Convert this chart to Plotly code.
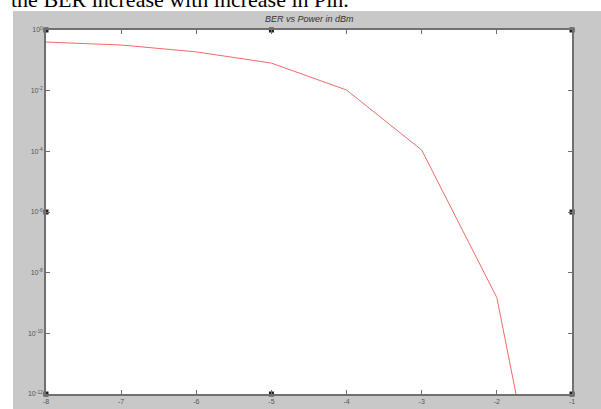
import plotly.graph_objects as go

# Data
power_dbm = [-8, -7, -6, -5, -4, -3, -2, -1]
ber = [0.40, 0.32, 0.19, 0.081, 1.05e-2, 1.1e-4, 1.5e-9, 5e-22]

x_ticks = [-8, -7, -6, -5, -4, -3, -2, -1]
y_exps = [0, -2, -4, -6, -8, -10, -12]

# selection handles visible in the picture (corners and edge midpoints)
handle_x = [-8, -5, -1, -8, -1, -8, -5, -1]
handle_y = [1, 1, 1, 1e-6, 1e-6, 1e-12, 1e-12, 1e-12]

W, H = 601, 409
L, R, T, B = 46, 29, 30, 15
pw, ph = W - L - R, H - T - B

def px(xp):
    return (xp - L) / pw

def py(yp):
    return (H - B - yp) / ph

fig = go.Figure()
fig.add_trace(go.Scatter(x=power_dbm, y=ber, mode="lines",
                         line=dict(color="#f26a6a", width=1), showlegend=False))
fig.add_trace(go.Scatter(x=handle_x, y=handle_y, mode="markers",
                         marker=dict(color="#222222", size=5, symbol="square"),
                         cliponaxis=False, showlegend=False))

axis_common = dict(showline=True, linecolor="#707070", linewidth=1.5, mirror="ticks",
                   ticks="inside", ticklen=4, tickcolor="#707070", showgrid=False,
                   zeroline=False, automargin=False,
                   tickfont=dict(family="Arial", size=7, color="#555555"))

fig.update_xaxes(range=[-8, -1], tickvals=x_ticks, ticktext=[str(v) for v in x_ticks],
                 **axis_common)
fig.update_yaxes(type="log", range=[-12, 0], tickvals=[10.0 ** e for e in y_exps],
                 ticktext=["10<sup>%d</sup>" % e for e in y_exps], **axis_common)

fig.update_layout(
    width=W, height=H,
    margin=dict(l=L, r=R, t=T, b=B, pad=0, autoexpand=False),
    paper_bgcolor="white", plot_bgcolor="rgba(0,0,0,0)",
    shapes=[
        dict(type="rect", xref="paper", yref="paper", x0=px(13), x1=px(W + 5),
             y0=py(H + 5), y1=py(11), fillcolor="#c8c8c8", line=dict(width=0), layer="below"),
        dict(type="rect", xref="paper", yref="paper", x0=0, x1=1, y0=0, y1=1,
             fillcolor="white", line=dict(width=0), layer="below"),
    ],
    annotations=[
        dict(text="<i>BER vs Power in dBm</i>", xref="paper", yref="paper", x=0.5, y=py(19),
             xanchor="center", yanchor="middle", showarrow=False,
             font=dict(family="Arial", size=9, color="#333333")),
        dict(text="the BER increase with increase in Pin.", xref="paper", yref="paper",
             x=px(9), y=py(9), xanchor="left", yanchor="bottom", yshift=-5, showarrow=False,
             font=dict(family="Liberation Serif", size=22, color="black")),
    ],
)

fig.write_html("out.html")
